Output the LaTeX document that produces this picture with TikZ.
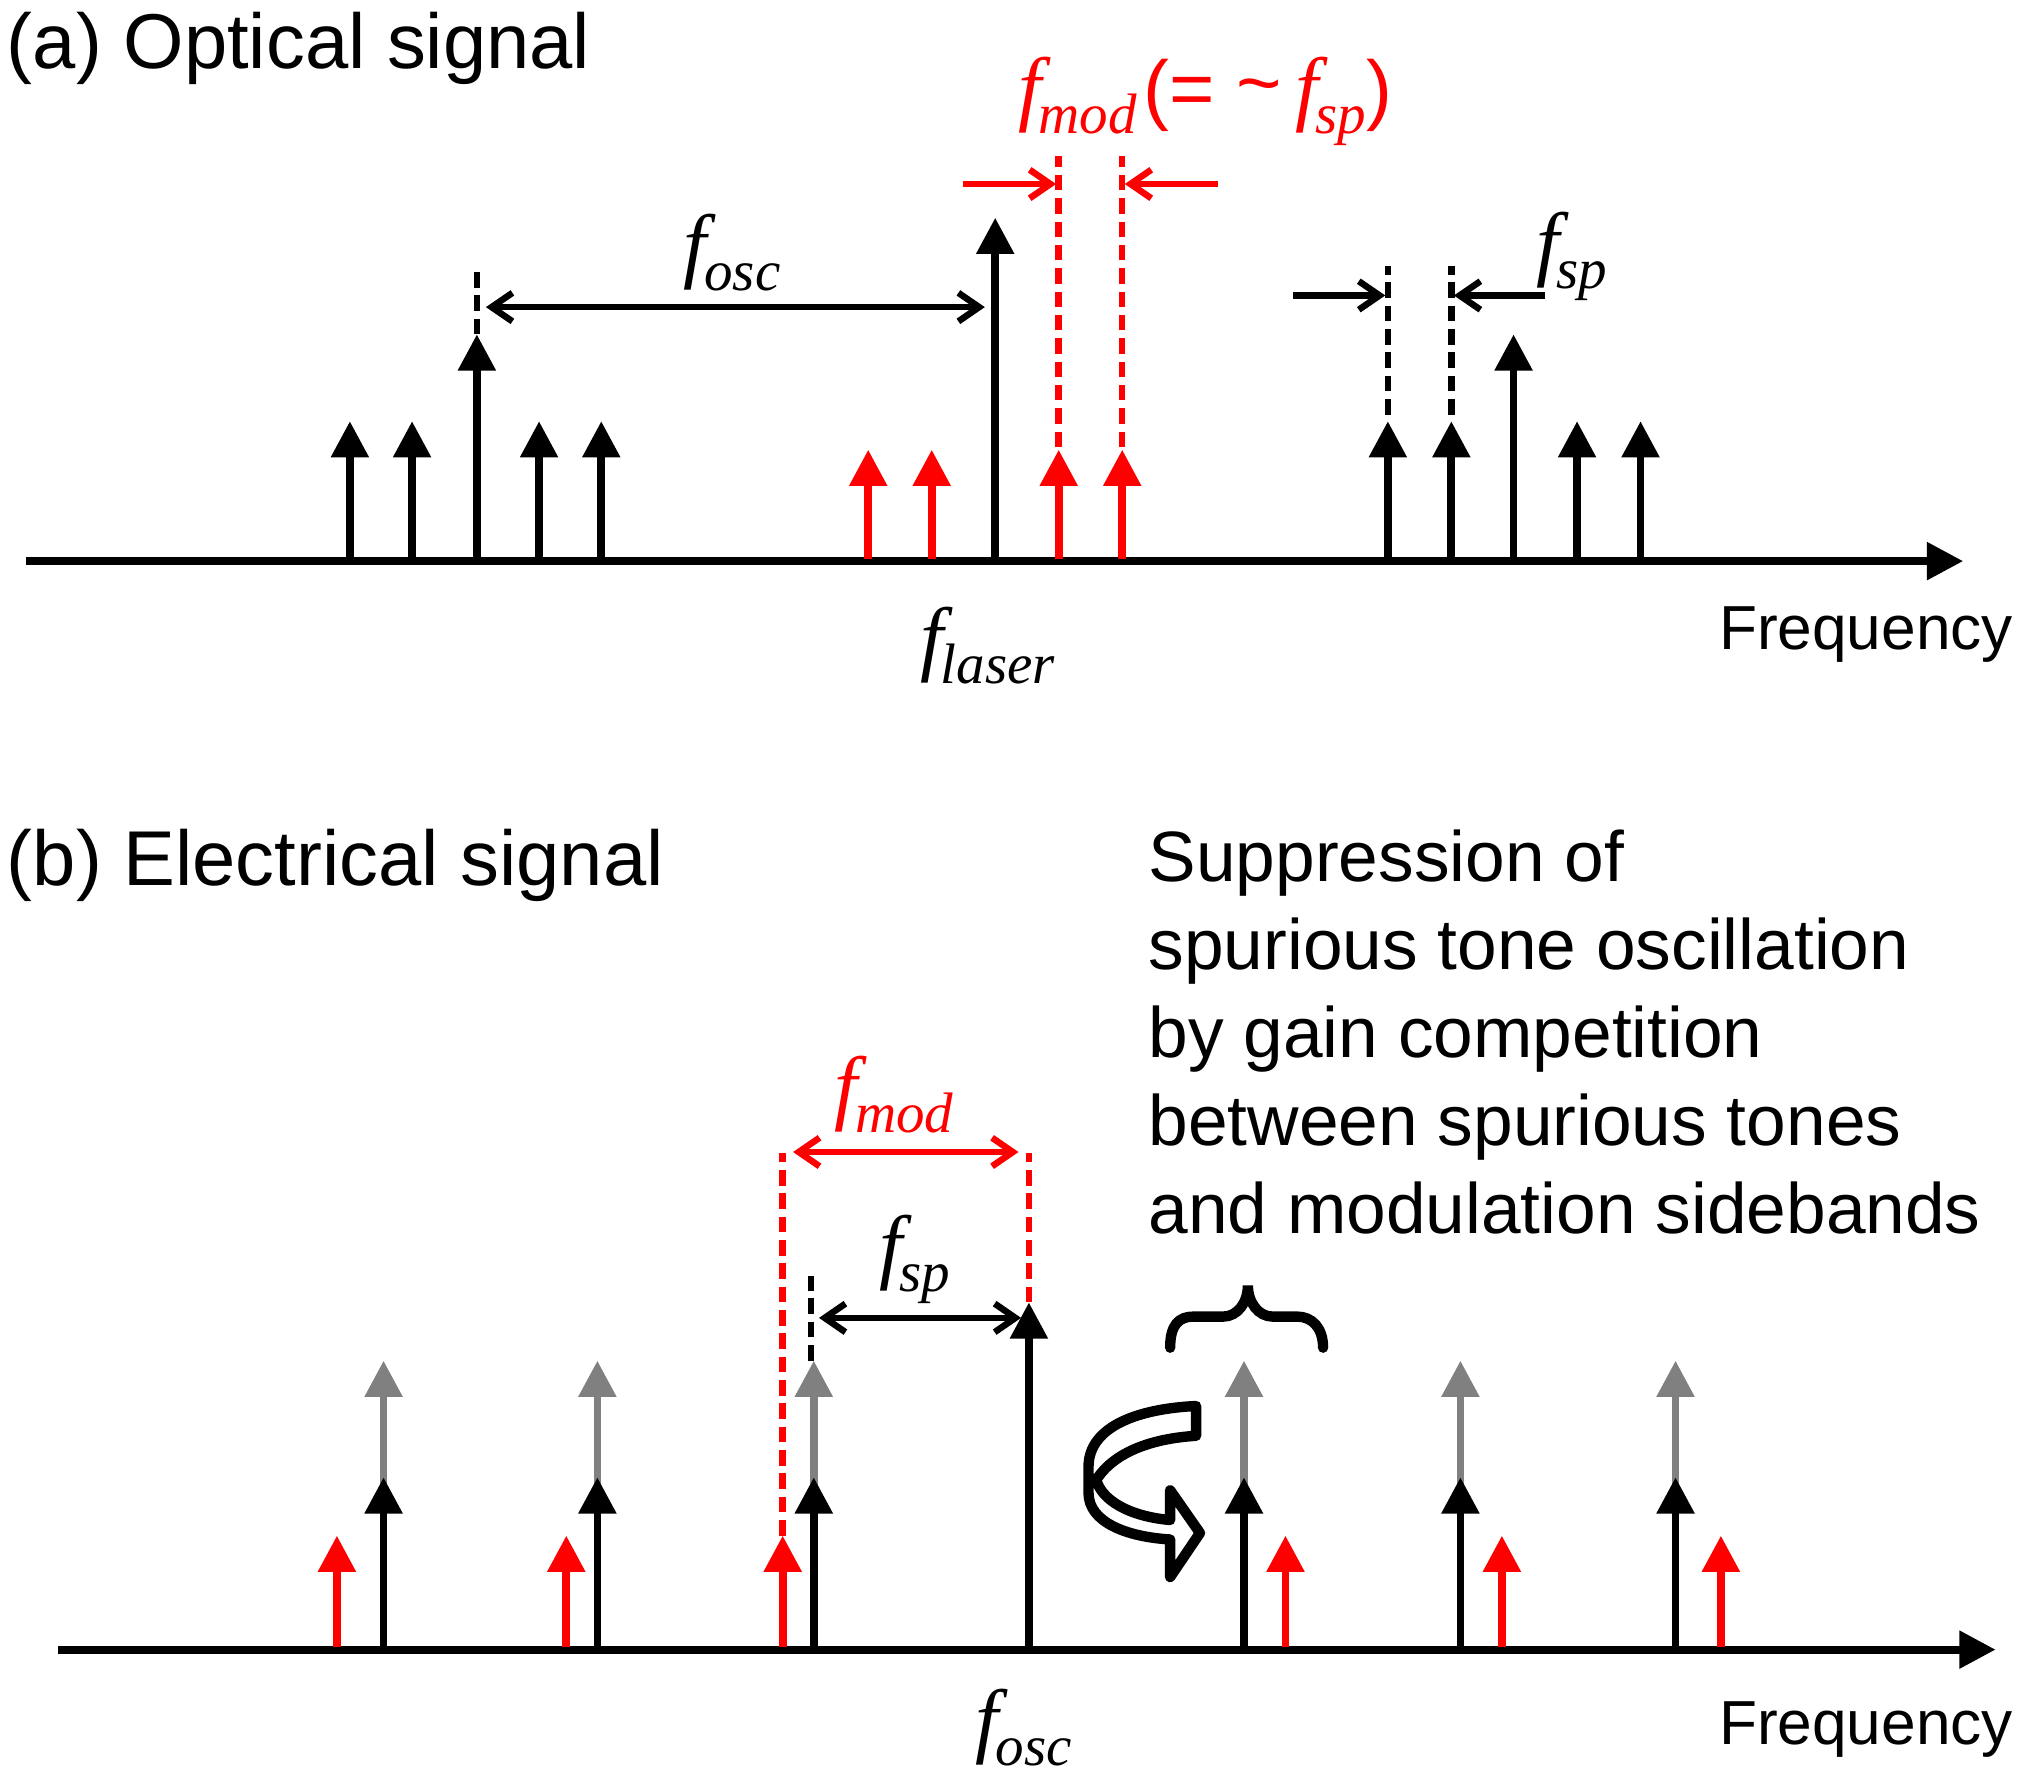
\documentclass[tikz,border=0pt]{standalone}
\usepackage{fontspec}
\setmainfont{Liberation Sans}
\newfontfamily\tms{Liberation Serif}
\usetikzlibrary{arrows.meta}
\newcommand{\flab}[1]{{\fontsize{32}{32}\selectfont\tms\itshape f}\kern-1pt\raisebox{-7pt}{\fontsize{22}{22}\selectfont\tms\itshape #1}}
\begin{document}
\begin{tikzpicture}[x=0.5pt,y=-0.5pt,
 ln/.style={line width=3pt},
 sp/.style={ln,-{Triangle[width=14pt,length=14pt]}},
 da/.style={line width=2.5pt,dash pattern=on 6pt off 3pt},
 dim/.style={line width=2.5pt,-{Straight Barb[width=11pt,length=8pt]}},
 ddim/.style={line width=2.5pt,{Straight Barb[width=11pt,length=8pt]}-{Straight Barb[width=11pt,length=8pt]}},
 ax/.style={line width=3pt,-{Triangle[width=14pt,length=14pt]}},
 lab/.style={inner sep=0pt}]
\useasboundingbox (0,0) rectangle (1565,1371);
% (a)
\node[lab,anchor=west,font=\fontsize{30}{30}\selectfont] (ta) at (5,37) {(a) Optical signal};
\coordinate (a0) at (20,433); \coordinate (a1) at (1515,433);
\draw[ax] (a0) -- (a1);
\foreach \x/\t/\c in {270/325/black,318/325/black,368/258/black,416/325/black,464/325/black,670/347/red,719/347/red,768/168/black,817/347/red,866/347/red,1071/325/black,1120/325/black,1168/258/black,1217/325/black,1266/325/black}
 \draw[sp,\c] (\x,431) -- (\x,\t);
\draw[da] (368,258) -- (368,205);
\draw[ddim] (375,237) -- (760,237);
\node[lab] (fosc) at (565,195) {\flab{osc}};
\draw[da,red] (817,345) -- (817,120);
\draw[da,red] (866,345) -- (866,120);
\draw[dim,red] (743,142) -- (815,142);
\draw[dim,red] (940,142) -- (868,142);
\node[lab,red] (fmod) at (930,78) {\flab{mod} \fontsize{30}{30}\selectfont(= \raisebox{2pt}{\textasciitilde}\,\flab{sp}\fontsize{30}{30}\selectfont)};
\draw[da] (1071,320) -- (1071,205);
\draw[da] (1120,320) -- (1120,205);
\draw[dim] (998,228) -- (1069,228);
\draw[dim] (1192,228) -- (1122,228);
\node[lab] (fsp) at (1213,198) {\flab{sp}};
\node[lab] (flaser) at (762,498) {\flab{laser}};
\node[lab,font=\fontsize{24}{24}\selectfont] (fr1) at (1440,490) {Frequency};
% (b)
\node[lab,anchor=west,font=\fontsize{30}{30}\selectfont] (tb) at (5,668) {(b) Electrical signal};
\coordinate (b0) at (45,1273); \coordinate (b1) at (1540,1273);
\foreach \x in {296,461,628,960,1127,1293}
 \draw[sp,gray] (\x,1271) -- (\x,1050);
\draw[ax] (b0) -- (b1);
\foreach \x/\t/\c in {260/1185/red,296/1140/black,437/1185/red,461/1140/black,604/1185/red,628/1140/black,794/1005/black,960/1140/black,992/1185/red,1127/1140/black,1159/1185/red,1293/1140/black,1328/1185/red}
 \draw[sp,\c] (\x,1271) -- (\x,\t);
\draw[da,red] (604,1185) -- (604,890);
\draw[da,red] (794,1005) -- (794,890);
\draw[ddim,red] (612,889) -- (786,889);
\node[lab,red] (fmod2) at (690,845) {\flab{mod}};
\draw[da] (626,1050) -- (626,985);
\draw[ddim] (632,1017) -- (788,1017);
\node[lab] (fsp2) at (706,972) {\flab{sp}};
\node[lab] (fosc2) at (790,1333) {\flab{osc}};
\node[lab,font=\fontsize{24}{24}\selectfont] (fr2) at (1440,1335) {Frequency};
\node[lab,anchor=north west,align=left,font=\fontsize{27.5}{34}\selectfont] (txt) at (886,640)
 {Suppression of\\spurious tone oscillation\\by gain competition\\between spurious tones\\and modulation sidebands};
\draw[line width=4pt,line cap=round] (903,1040) .. controls (903,1022) and (910,1016) .. (921,1016) -- (944,1016) .. controls (955,1016) and (963,1005) .. (963,992) .. controls (963,1005) and (971,1016) .. (982,1016) -- (1001,1016) .. controls (1012,1016) and (1021,1024) .. (1021,1040);
\draw[line width=4pt,line join=round,fill=white] (923,1085) .. controls (880,1087) and (840,1100) .. (840,1132) -- (840,1152) .. controls (840,1175) and (870,1186) .. (903,1188) -- (903,1217) -- (926,1183) -- (903,1150) -- (903,1173) .. controls (870,1170) and (850,1157) .. (846,1142) .. controls (860,1120) and (890,1110) .. (923,1108) -- cycle;
\end{tikzpicture}
\end{document}
